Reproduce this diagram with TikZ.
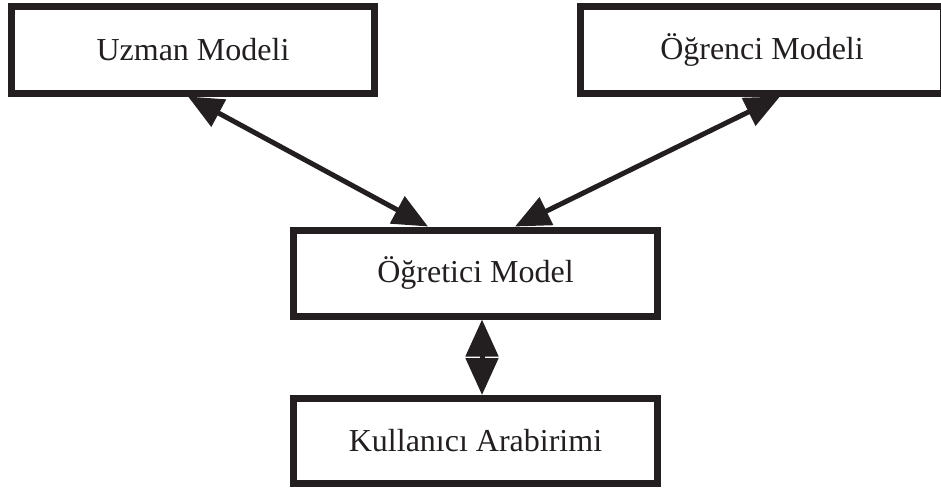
\documentclass[tikz,border=0pt]{standalone}
\usepackage{fontspec}
\setmainfont{Liberation Serif}
\usetikzlibrary{arrows.meta,calc}
\definecolor{ink}{HTML}{231F20}
\begin{document}
\begin{tikzpicture}[x=1pt,y=-1pt,
  modelbox/.style={draw=ink,line width=7pt,fill=white,text=ink,
    minimum width=363pt,minimum height=87pt,inner sep=0pt,
    font=\fontsize{32}{38}\selectfont},
  link/.style={draw=ink,line width=5pt,
    {Triangle[length=35pt,width=30pt]}-{Triangle[length=35pt,width=30pt]}},
  uplink/.style={draw=ink,line width=5pt,
    {Triangle[length=37pt,width=32pt]}-{Triangle[length=37pt,width=32pt]}}]
  \useasboundingbox (0,0) rectangle (941,488);

  % the four components
  \node[modelbox] (uzman)   at (193,49.5)  {Uzman Modeli};
  \node[modelbox] (ogrenci) at (762,49.5)  {Öğrenci Modeli};
  \node[modelbox,minimum width=364pt,minimum height=86pt]
                  (ogretici) at (475.5,273) {Öğretici Model};
  \node[modelbox,minimum width=364pt,minimum height=85pt]
                  (arayuz)  at (475.5,441) {Kullanıcı Arabirimi};

  % two-way links between the components
  \draw[link] ($(uzman.south)+(-5,0)$) -- ($(ogretici.north)+(-47.5,0)$);
  \draw[link] ($(ogrenci.south)+(18,0)$) -- ($(ogretici.north)+(39.5,0)$);
  \draw[uplink] ($(ogretici.south)+(6.5,0)$) -- ($(arayuz.north)+(6.5,0)$);
\end{tikzpicture}
\end{document}
